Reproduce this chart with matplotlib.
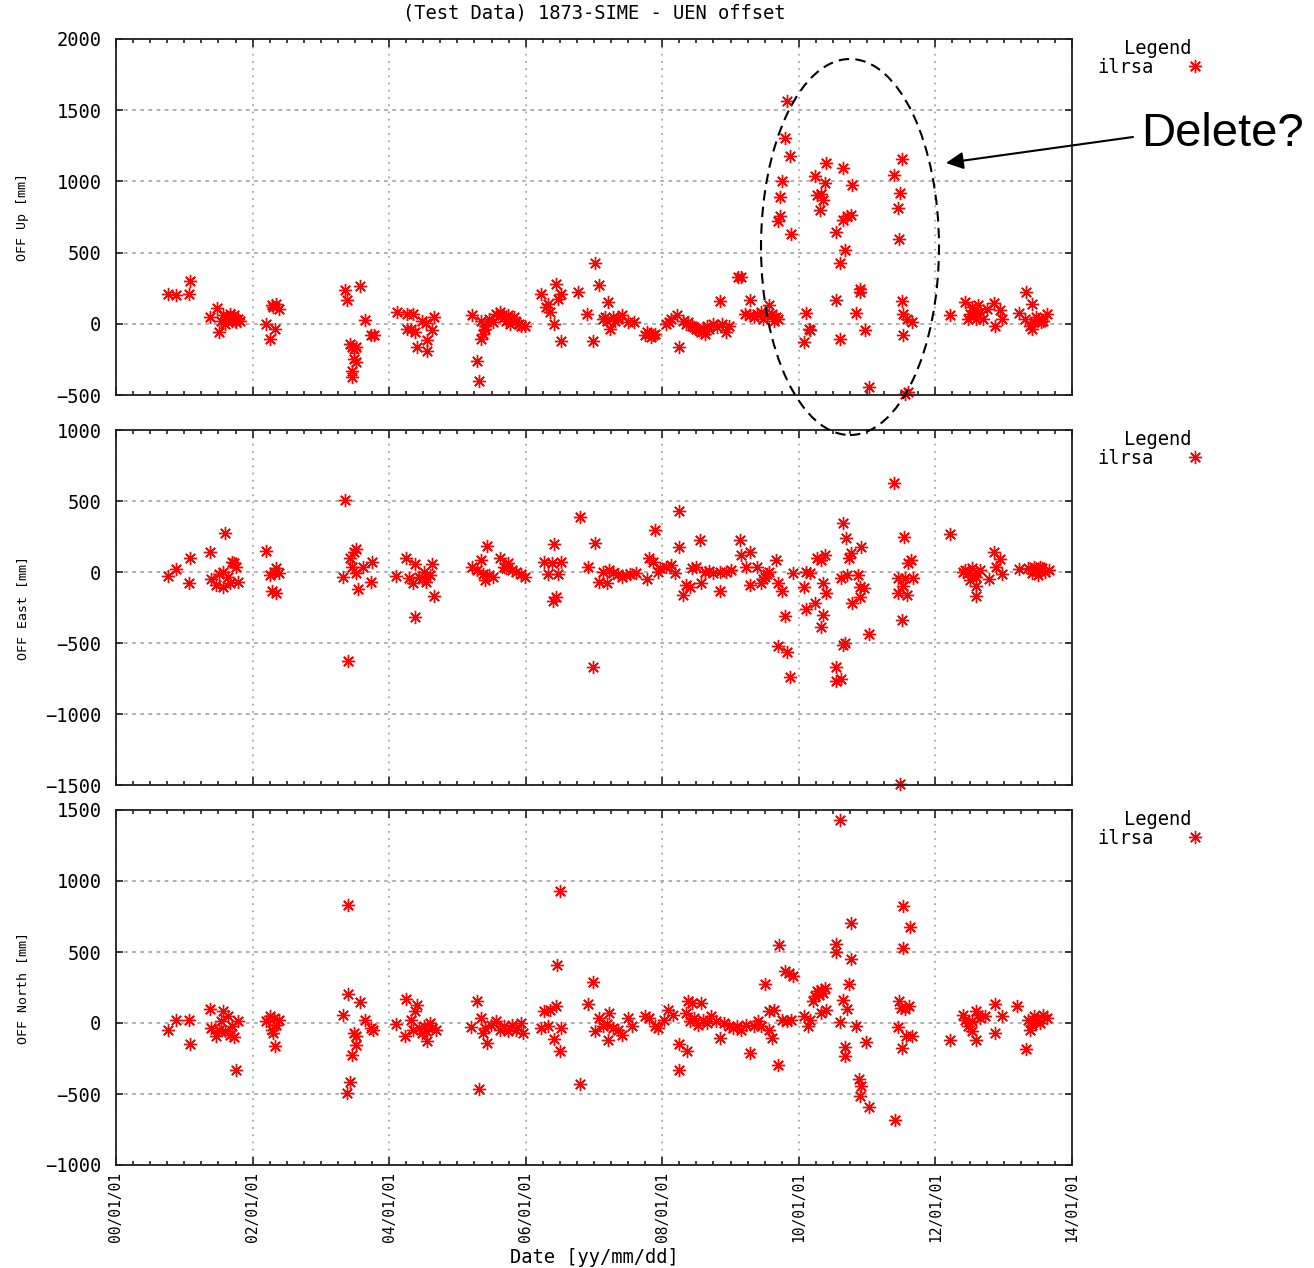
import numpy as np
import matplotlib.pyplot as plt
from matplotlib.patches import Ellipse

# time in decimal years since 2000-01-01, offsets in mm
up_t = [0.76, 0.88, 1.07, 1.09,
        1.37, 1.48, 1.51, 1.57, 1.64, 1.67, 1.70, 1.73, 1.76, 1.79, 1.82, 1.60, 1.54, 1.62, 1.68, 1.74,
        2.19, 2.25, 2.33, 2.30, 2.35, 2.38, 2.28,
        3.35, 3.38, 3.58, 3.64, 3.73, 3.78,
        3.43, 3.46, 3.49, 3.52, 3.48, 3.52, 3.46, 3.46,
        4.12, 4.26, 4.35, 4.32, 4.26, 4.38, 4.41, 4.55, 4.56, 4.54, 4.63, 4.66, 4.48,
        5.22, 5.28, 5.31, 5.34, 5.37, 5.40, 5.46, 5.52, 5.62, 5.68, 5.74, 5.80, 5.86, 5.93, 5.99, 5.77, 5.34, 5.40,
        5.57, 5.65, 5.71, 5.83, 5.90,
        6.23, 6.30, 6.36, 6.33, 6.45, 6.48, 6.52, 6.42, 6.51,
        6.77, 6.90, 6.99, 7.01, 7.07, 7.20, 7.13, 7.19, 7.24, 7.28, 7.35, 7.41, 7.50, 7.59, 7.16, 7.31,
        7.75, 7.81, 7.84, 7.90, 7.78, 7.87,
        8.06, 8.13, 8.22, 8.24, 8.31, 8.38, 8.44, 8.50, 8.57, 8.63, 8.69, 8.75, 8.85, 8.88, 8.94, 8.97,
        8.10, 8.34, 8.47, 8.54, 8.60, 8.66, 8.80,
        9.11, 9.16, 9.21, 9.29, 9.29, 9.38, 9.48, 9.54, 9.57, 9.64, 9.70, 9.34, 9.44, 9.60, 9.67,
        9.82, 9.79, 9.87, 9.76, 9.73, 9.73, 9.70, 9.89,
        10.11, 10.15, 10.08, 10.17,
        10.23, 10.40, 10.64, 10.39, 10.33, 10.26, 10.36, 10.31, 10.78, 10.55, 10.64, 10.70, 10.77, 10.67,
        10.60, 10.55, 10.84, 10.89, 10.89, 10.97, 10.60, 11.02,
        11.51, 11.40, 11.48, 11.45, 11.46, 11.51, 11.53, 11.58, 11.66, 11.53, 11.60, 11.55,
        12.21, 12.43, 12.47, 12.53, 12.59, 12.62, 12.69, 12.75, 12.86, 12.87, 12.94, 12.97, 12.50, 12.56, 12.66,
        13.33, 13.22, 13.41, 13.31, 13.38, 13.44, 13.50, 13.57, 13.63, 13.42, 13.47, 13.54]
up_mm = [211, 200, 211, 298,
         47, 113, -59, 59, 47, 70, 23, 59, 12, 35, 23, 0, 23, 35, 47, 23,
         0, -106, -35, 117, 141, 106, 129,
         239, 164, 263, 28, -82, -82,
         -141, -164, -176, -164, -246, -265, -329, -376,
         82, 70, 70, -35, -35, -59, -164, -117, -188, 5, -47, 47, 23,
         59, -258, -399, -106, -70, -12, 35, 12, 82, 47, 59, 35, 12, -12, -12, 0, 23, -35,
         70, 59, 23, 47, 0,
         211, 117, 82, 141, 282, 176, 211, 0, -122,
         223, 70, -122, 427, 270, 153, 35, 23, -35, 47, 35, 59, 12, 12, 47, 23,
         -82, -70, -94, -70, -59, -82,
         0, 35, 59, -160, 23, 12, -12, -35, -59, -70, -35, 0, 160, 0, -59, -12,
         12, 0, -23, -47, -35, -12, -23,
         329, 329, 70, 169, 59, 70, 35, 59, 129, 23, 35, 47, 82, 70, 47,
         1568, 1302, 1178, 1004, 887, 756, 723, 634,
         75, -35, -129, -47,
         1037, 1131, 1091, 986, 915, 904, 868, 798, 972, 645, 728, 756, 763, 521,
         427, 169, 75, 223, 246, -42, -106, -441,
         1155, 1044, 920, 810, 598, 157, 70, 35, 12, -82, -481, -493,
         59, 153, 35, 117, 35, 129, 35, 106, 146, -12, 94, 35, 70, 59, 82,
         223, 75, 136, 35, -12, 12, 35, 23, 70, -35, 47, 12]

east_t = [0.76, 0.88, 1.07, 1.09, 1.37, 1.59, 1.39, 1.46, 1.51, 1.57, 1.64, 1.67, 1.70, 1.73, 1.76, 1.79, 1.56,
          2.19, 2.25, 2.31, 2.35, 2.38, 2.28, 2.35,
          3.36, 3.40, 3.33, 3.43, 3.48, 3.51, 3.46, 3.52, 3.54, 3.61, 3.75, 3.73,
          4.10, 4.24, 4.29, 4.35, 4.38, 4.38, 4.44, 4.51, 4.54, 4.60, 4.63, 4.66, 4.48,
          5.22, 5.28, 5.34, 5.37, 5.40, 5.43, 5.46, 5.52, 5.62, 5.68, 5.74, 5.80, 5.86, 5.93, 5.99, 5.71,
          6.27, 6.33, 6.42, 6.44, 6.40, 6.48, 6.51, 6.39,
          6.79, 6.91, 6.99, 7.02, 7.07, 7.13, 7.19, 7.22, 7.28, 7.35, 7.41, 7.47, 7.53, 7.62,
          7.78, 7.81, 7.87, 7.89, 7.93,
          7.97, 8.06, 8.13, 8.24, 8.24, 8.19, 8.31, 8.35, 8.41, 8.44, 8.50, 8.55, 8.57, 8.63, 8.69, 8.75,
          8.85, 8.85, 8.94, 9.01, 9.14, 9.16, 9.29, 9.23, 9.29, 9.38, 9.45, 9.51, 9.57, 9.67, 9.70, 9.76,
          9.79, 9.69, 9.82, 9.87, 9.92, 9.48, 9.54,
          10.11, 10.17, 10.08, 10.11, 10.23, 10.26, 10.33, 10.39, 10.33, 10.36, 10.36, 10.40,
          10.64, 10.69, 10.74, 10.77, 10.91, 10.61, 10.70, 10.86, 10.89, 10.96, 10.89, 10.78,
          10.64, 10.67, 10.55, 10.55, 10.61, 11.02,
          11.40, 11.54, 11.64, 11.60, 11.45, 11.56, 11.67, 11.52, 11.45, 11.58, 11.51, 11.48,
          12.21,
          12.40, 12.47, 12.53, 12.59, 12.65, 12.59, 12.59, 12.50, 12.78, 12.86, 12.94, 12.97, 12.89, 12.44, 12.56,
          13.22, 13.35, 13.41, 13.47, 13.53, 13.60, 13.66, 13.50, 13.44, 13.56]
east_mm = [-28, 19, -75, 96, 141, 272, -52, -92, -14, 2, -33, -80, 73, 61, 38, -68, -103,
           150, -21, 2, 26, -9, -131, -146,
           507, -624, -38, 96, 143, 160, 38, -9, -122, 38, 73, -68,
           -28, 96, -45, -80, 56, -319, -33, 2, -68, -21, 56, -167, -45,
           38, 14, 84, -14, -56, 183, -21, -33, 96, 38, 61, 14, 2, -14, -33, 26,
           73, -14, 197, -174, -202, -14, 73, 61,
           390, 38, -667, 202, -68, 2, -80, 14, -5, -14, -33, -21, -14, -5,
           -52, 96, 73, 296, 2,
           26, 38, 49, 432, 178, -9, -162, -92, -103, 26, 38, 225, -80, 2, 9, -9,
           2, -131, 2, 14, 225, 120, 143, 38, -92, 38, -80, -33, 2, 84, -80, -131,
           -307, -521, -561, -737, -9, -47, -12,
           2, -9, -103, -263, -221, 96, 84, 120, -385, -303, -75, -150,
           347, 237, 96, 131, 178, -45, -21, -21, -103, -115, -174, -221,
           -514, -498, -667, -765, -756, -439,
           629, 244, 84, 66, -45, -45, -45, -99, -146, -162, -338, -1493,
           268,
           2, -9, 26, -33, 14, -99, -169, -56, -52, 143, 89, -14, 38, 14, -21,
           19, 26, -9, 14, 38, 2, 14, -21, 38, 26]

north_t = [0.76, 0.88, 1.07, 1.09, 1.37, 1.39, 1.46, 1.51, 1.57, 1.60, 1.64, 1.67, 1.70, 1.73, 1.76, 1.79, 1.54,
           2.19, 2.25, 2.28, 2.31, 2.35, 2.38, 2.33, 2.30,
           3.33, 3.40, 3.40, 3.38, 3.43, 3.46, 3.49, 3.52, 3.52, 3.58, 3.64, 3.73, 3.77,
           4.10, 4.24, 4.23, 4.32, 4.38, 4.41, 4.35, 4.44, 4.51, 4.54, 4.56, 4.60, 4.63, 4.69, 4.48,
           5.20, 5.28, 5.31, 5.34, 5.37, 5.40, 5.43, 5.49, 5.56, 5.62, 5.68, 5.74, 5.80, 5.86, 5.93, 5.96,
           6.23, 6.27, 6.33, 6.36, 6.42, 6.45, 6.46, 6.50, 6.50, 6.51,
           6.79, 6.91, 6.99, 7.01, 7.07, 7.13, 7.19, 7.22, 7.20, 7.28, 7.35, 7.41, 7.50, 7.56, 7.75, 7.81, 7.90,
           7.94, 8.03, 8.09, 8.16, 8.24, 8.24, 8.36, 8.38, 8.44, 8.57, 8.35, 8.41, 8.47, 8.53, 8.60, 8.66,
           8.72, 8.79, 8.85, 8.91, 8.97, 9.10, 9.16, 9.23, 9.29, 9.35, 9.45, 9.50, 9.57, 9.60, 9.57, 9.64,
           9.70, 9.71, 9.76, 9.79, 9.86, 9.92, 9.82, 9.89, 9.40, 9.03,
           10.08, 10.14, 10.17, 10.20, 10.23, 10.26, 10.30, 10.33, 10.36, 10.39, 10.33, 10.40,
           10.55, 10.55, 10.60, 10.60, 10.64, 10.70, 10.67, 10.67, 10.74, 10.77, 10.77, 10.84,
           10.88, 10.91, 10.89, 10.99, 11.02,
           11.41, 11.45, 11.46, 11.49, 11.56, 11.62, 11.53, 11.63, 11.53, 11.51, 11.57, 11.66,
           12.21, 12.40, 12.47, 12.53, 12.59, 12.65, 12.59, 12.53, 12.72, 12.87, 12.87, 12.97, 12.44, 12.62,
           13.20, 13.33, 13.35, 13.38, 13.44, 13.50, 13.57, 13.63, 13.41, 13.53, 13.47]
north_mm = [-52, 23, 23, -146, 99, -35, -94, -47, 82, -59, 47, -82, -23, -99, -333, 12, 12,
            12, 47, -47, 35, -12, 23, -160, -70,
            59, 833, 207, -493, -418, -223, -70, -94, -153, 146, 23, -35, -47,
            -5, 171, -94, 23, 82, 129, -47, -35, -23, -59, -129, 0, -35, -47, -70,
            -28, 153, -465, 35, -70, -35, -141, -12, 12, -47, -23, -59, -12, -47, 0, -70,
            -35, 82, -19, 94, -113, 122, 411, 927, -200, -35,
            -427, 136, 286, -59, 35, -23, -5, 70, -122, -35, -47, -82, 35, -23, 47, 35, -23,
            -35, 23, 94, 59, -146, -333, -200, 153, 141, 141, 70, 12, 35, -12, 23, 0,
            47, 12, -106, 0, -19, -23, -47, -12, -211, -23, -23, 277, -47, -106, 82, 94,
            -293, 552, 23, 364, 352, 333, 12, 23, 12, -35,
            47, -23, 23, 153, 188, 223, 200, 235, 211, 246, 70, 89,
            559, 498, 1432, 5, 164, 99, -169, -235, 277, 704, 451, -19,
            -394, -441, -516, -136, -591,
            -685, -28, 153, 106, 99, 117, 826, 676, 528, -176, -89, -94,
            -117, 59, -23, 12, 82, 35, -122, -59, 47, 136, -70, 47, 23, 59,
            117, -183, 23, -47, 47, 23, 59, 35, -12, 0, 12]

year_ticks = [0, 2, 4, 6, 8, 10, 12, 14]
date_labels = ["00/01/01", "02/01/01", "04/01/01", "06/01/01",
               "08/01/01", "10/01/01", "12/01/01", "14/01/01"]

MONO = "DejaVu Sans Mono"
W, H = 1314, 1268  # canvas size in px


def box(left, top, right, bottom):
    # pixel box -> figure fraction rect
    return [left / W, 1 - bottom / H, (right - left) / W, (bottom - top) / H]


fig = plt.figure(figsize=(W / 100, H / 100), dpi=100)

panels = [
    (up_t, up_mm, "OFF Up [mm]", (-500, 2000), 39, 395),
    (east_t, east_mm, "OFF East [mm]", (-1500, 1000), 430, 785),
    (north_t, north_mm, "OFF North [mm]", (-1000, 1500), 810, 1165),
]

axes = []
for i, (t, v, ylab, (lo, hi), top, bottom) in enumerate(panels):
    ax = fig.add_axes(box(116, top, 1072, bottom))
    ax.plot(t, v, linestyle="none", marker=(8, 2, 0), ms=9.5, mew=1.0,
            color="#ff0000", clip_on=False, label="ilrsa")
    ax.set_xlim(0, 14)
    ax.set_ylim(lo, hi)
    ax.set_yticks(np.arange(lo, hi + 1, 500))
    ax.set_xticks(year_ticks)
    ax.set_xticks(np.arange(0, 14.01, 0.25), minor=True)
    ax.set_axisbelow(True)
    ax.grid(True, axis="x", color="#a8a8a8", linestyle=(0, (1, 3)), lw=1.3)
    ax.grid(True, axis="y", color="#a8a8a8", linestyle=(0, (2, 2.5)), lw=1.3)

    ax.tick_params(axis="both", which="both", direction="in", top=True, right=True,
                   color="#202020", width=1.2)
    ax.tick_params(axis="x", which="major", length=6)
    ax.tick_params(axis="x", which="minor", length=3)
    ax.tick_params(axis="y", which="major", length=5, pad=10.5, labelsize=13.5)
    for lbl in ax.get_yticklabels():
        lbl.set_family(MONO)
    for s in ax.spines.values():
        s.set_color("#202020")
        s.set_linewidth(1.3)

    ax.set_ylabel(ylab, family=MONO, fontsize=9.5)
    ax.yaxis.set_label_coords(-0.091, 0.5)

    leg = ax.legend(loc="upper left", bbox_to_anchor=(1.027, 1.0), frameon=False,
                    markerfirst=False, title="Legend",
                    prop={"family": MONO, "size": 13.5},
                    title_fontproperties={"family": MONO, "size": 13.5},
                    borderpad=0, borderaxespad=0, handlelength=2.4,
                    handletextpad=1.0, labelspacing=0)
    leg._legend_box.sep = 0

    if i < 2:
        ax.tick_params(axis="x", labelbottom=False)
    axes.append(ax)

ax_b = axes[-1]
ax_b.set_xticklabels(date_labels, rotation=90, family=MONO, fontsize=10.5)
ax_b.tick_params(axis="x", which="major", pad=5)
ax_b.set_xlabel("Date [yy/mm/dd]", family=MONO, fontsize=13.5, va="top")
ax_b.xaxis.set_label_coords(0.5, -(1248 - 1165) / 355)

fig.text(594 / W, 1 - 13 / H, "(Test Data) 1873-SIME - UEN offset",
         family=MONO, fontsize=13.5, ha="center", va="center")

# outlier region marked on the Up panel
fig.add_artist(Ellipse((850 / W, 1 - 247 / H), 178 / W, 376 / H,
                       transform=fig.transFigure, fill=False, ec="black",
                       lw=1.5, ls=(0, (5, 3))))
axes[0].annotate("", xy=(946 / W, 1 - 163 / H), xycoords="figure fraction",
                 xytext=(1133 / W, 1 - 137 / H), textcoords="figure fraction",
                 arrowprops=dict(arrowstyle="-|>", color="black", lw=1.5,
                                 mutation_scale=26, shrinkA=0, shrinkB=0),
                 annotation_clip=False)
fig.text(1141 / W, 1 - 146 / H, "Delete?", family="Liberation Sans",
         fontsize=34, ha="left", va="baseline")

fig.savefig("out.png", dpi=100)
